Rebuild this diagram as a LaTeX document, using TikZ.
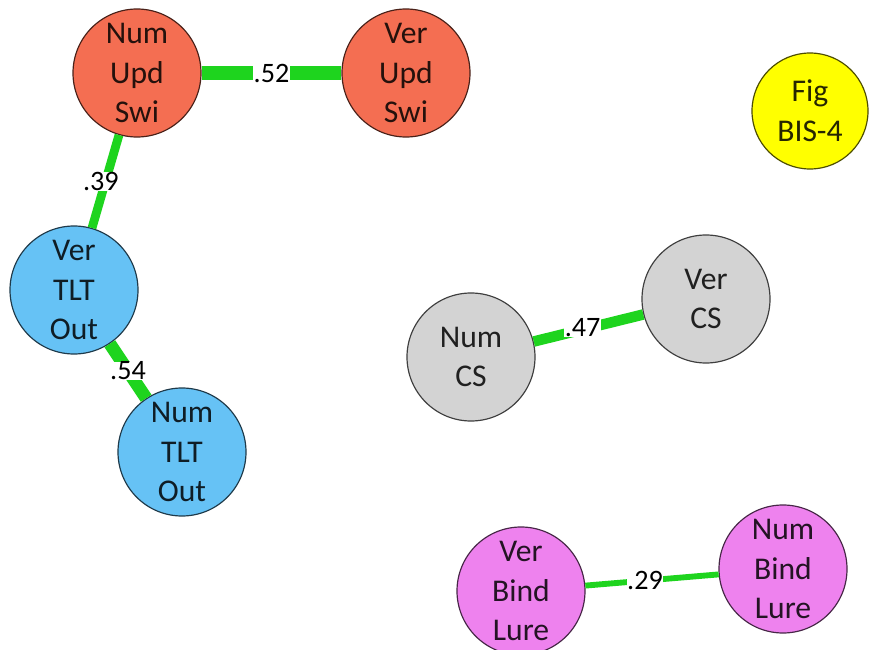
\documentclass[tikz,border=0pt]{standalone}
\usepackage{fontspec}
\setmainfont{Carlito}

\definecolor{updred}{RGB}{244,110,82}
\definecolor{tltblue}{RGB}{102,194,245}
\definecolor{csgrey}{RGB}{211,211,211}
\definecolor{figyellow}{RGB}{255,255,0}
\definecolor{lurepink}{RGB}{238,130,238}
\definecolor{corrgreen}{RGB}{30,212,30}

\begin{document}
\begin{tikzpicture}[x=0.03cm,y=-0.03cm,
  var/.style={circle,draw=#1!30!black,fill=#1,text=#1!15!black,line width=1pt,
    minimum size=3.84cm,inner sep=0pt,align=center,font=\fontsize{27}{34}\selectfont},
  corr/.style={draw=corrgreen,line width=#1},
  wt/.style={fill=white,inner sep=0.3pt,font=\fontsize{24}{28}\selectfont}]
  \useasboundingbox (0,0) rectangle (870,650);

  % variables
  \node [var=updred] (numupd) at (137,73) {Num\\Upd\\Swi};
  \node [var=updred] (verupd) at (406,73) {Ver\\Upd\\Swi};
  \node [var=figyellow,minimum size=3.48cm] (fig) at (810,111) {Fig\\BIS-4};
  \node [var=tltblue] (vertlt) at (74,290) {Ver\\TLT\\Out};
  \node [var=tltblue] (numtlt) at (182,452) {Num\\TLT\\Out};
  \node [var=csgrey] (numcs) at (471,357) {Num\\CS};
  \node [var=csgrey] (vercs) at (706,299) {Ver\\CS};
  \node [var=lurepink] (verlure) at (521,591) {Ver\\Bind\\Lure};
  \node [var=lurepink] (numlure) at (783,569) {Num\\Bind\\Lure};

  % correlations
  \draw [corr=12.5pt] (numupd) -- node [wt] {.52} (verupd);
  \draw [corr=7.5pt] (numupd) -- node [wt,xshift=-4] {.39} (vertlt);
  \draw [corr=11pt] (vertlt) -- node [wt] {.54} (numtlt);
  \draw [corr=9pt] (numcs) -- node [wt,xshift=-5] {.47} (vercs);
  \draw [corr=5pt] (verlure) -- node [wt,xshift=-6] {.29} (numlure);

\end{tikzpicture}
\end{document}
